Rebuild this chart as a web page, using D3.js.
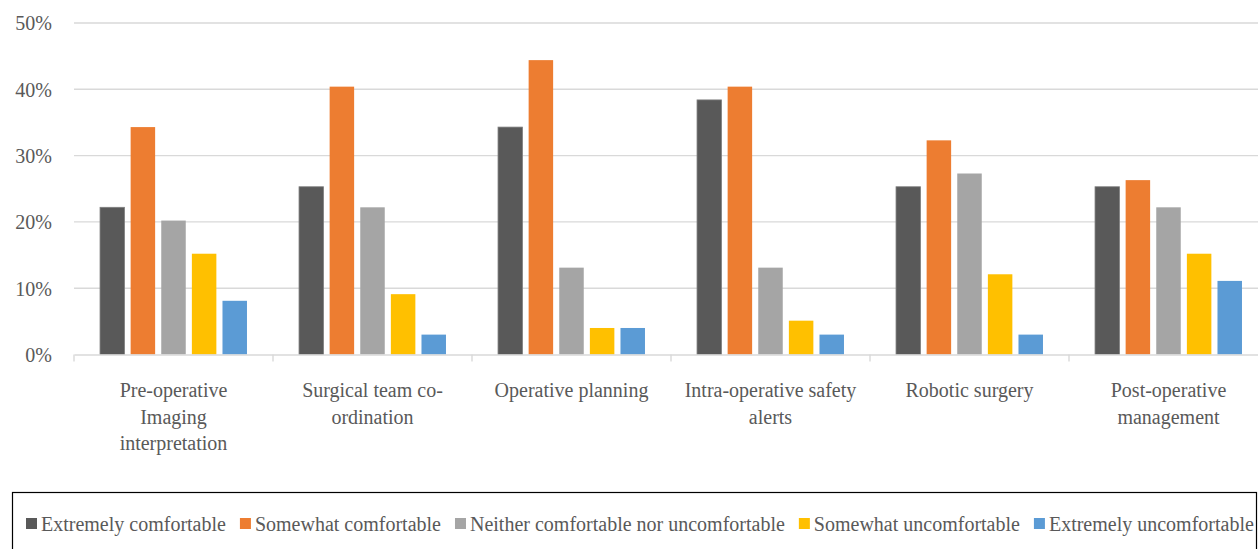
<!DOCTYPE html>
<html>
<head>
<meta charset="utf-8">
<script src="https://cdn.jsdelivr.net/npm/d3@7"></script>
<style>
  html, body { margin: 0; padding: 0; background: #fff; }
  svg { display: block; font-family: "Liberation Serif", "Times New Roman", serif; }
</style>
</head>
<body>
<svg id="chart" width="1258" height="549"></svg>
<script>
// Survey categories (each label split into display lines)
const categories = [
  "Pre-operative Imaging interpretation",
  "Surgical team co-ordination",
  "Operative planning",
  "Intra-operative safety alerts",
  "Robotic surgery",
  "Post-operative management"
];
const categoryLines = [
  ["Pre-operative", "Imaging", "interpretation"],
  ["Surgical team co-", "ordination"],
  ["Operative planning"],
  ["Intra-operative safety", "alerts"],
  ["Robotic surgery"],
  ["Post-operative", "management"]
];

// Response levels
const seriesNames = [
  "Extremely comfortable",
  "Somewhat comfortable",
  "Neither comfortable nor uncomfortable",
  "Somewhat uncomfortable",
  "Extremely uncomfortable"
];
const seriesColors = ["#595959", "#ED7D31", "#A5A5A5", "#FFC000", "#5B9BD5"];

// Share of respondents (%) per category, one array per response level
const extremelyComfortable   = [22.2, 25.3, 34.3, 38.4, 25.3, 25.3];
const somewhatComfortable    = [34.3, 40.4, 44.4, 40.4, 32.3, 26.3];
const neitherComfortable     = [20.2, 22.2, 13.1, 13.1, 27.3, 22.2];
const somewhatUncomfortable  = [15.2,  9.1,  4.0,  5.1, 12.1, 15.2];
const extremelyUncomfortable = [ 8.1,  3.0,  4.0,  3.0,  3.0, 11.1];
const seriesValues = [
  extremelyComfortable, somewhatComfortable, neitherComfortable,
  somewhatUncomfortable, extremelyUncomfortable
];

// Value axis ticks
const yTicks = [0, 10, 20, 30, 40, 50];

const svg = d3.select("#chart");
const textColor = "#595959";
const gridColor = "#d9d9d9";

const y = d3.scaleLinear().domain([0, 50]).range([354.5, 23]);
const x0 = d3.scaleBand().domain(categories).range([74, 1268]).padding(0);
const x1 = d3.scaleBand().domain(seriesNames).range([0, x0.bandwidth()])
  .paddingInner(0.2).paddingOuter(0.85);

// Gridlines
svg.append("g").selectAll("line").data(yTicks.filter(t => t > 0)).join("line")
  .attr("x1", 74).attr("x2", 1268)
  .attr("y1", d => y(d)).attr("y2", d => y(d))
  .attr("stroke", gridColor).attr("stroke-width", 1.4);

// Y-axis labels
const yAxis = d3.axisLeft(y).tickValues(yTicks).tickFormat(d => d + "%").tickSize(0).tickPadding(0);
const yg = svg.append("g").attr("transform", "translate(52,0)").call(yAxis);
yg.select(".domain").remove();
yg.selectAll("text")
  .attr("font-family", "Liberation Serif, Times New Roman, serif")
  .attr("font-size", 20).attr("fill", textColor).attr("dy", "0.34em");

// Bars
const groups = svg.append("g").selectAll("g").data(categories).join("g")
  .attr("transform", d => `translate(${x0(d)},0)`);
groups.selectAll("rect")
  .data((c, ci) => seriesNames.map((s, si) => ({ s, si, v: seriesValues[si][ci] })))
  .join("rect")
  .attr("x", d => x1(d.s))
  .attr("width", x1.bandwidth())
  .attr("y", d => y(d.v))
  .attr("height", d => y(0) - y(d.v))
  .attr("fill", d => seriesColors[d.si])
  .attr("stroke", d => d.si === 0 ? "#7f7f7f" : "none")
  .attr("stroke-width", 0.8);

// Category axis: baseline and separators
const xAxis = d3.axisBottom(x0).tickSize(0).tickFormat("");
const xg = svg.append("g").attr("transform", `translate(0,${y(0)})`).call(xAxis);
xg.select(".domain").attr("stroke", gridColor).attr("stroke-width", 1.4);
xg.selectAll(".tick").remove();
const bounds = categories.map(c => x0(c)).concat([x0(categories[categories.length - 1]) + x0.bandwidth()]);
xg.selectAll("line.sep").data(bounds).join("line").attr("class", "sep")
  .attr("x1", d => d).attr("x2", d => d).attr("y1", 0).attr("y2", 7)
  .attr("stroke", gridColor).attr("stroke-width", 1.4);

// Category labels
const labels = svg.append("g").selectAll("text").data(categories).join("text")
  .attr("x", d => x0(d) + x0.bandwidth() / 2)
  .attr("y", 397)
  .attr("text-anchor", "middle")
  .attr("font-size", 20).attr("fill", textColor);
labels.each(function(d, i) {
  d3.select(this).selectAll("tspan").data(categoryLines[i]).join("tspan")
    .attr("x", x0(d) + x0.bandwidth() / 2)
    .attr("dy", (l, j) => j === 0 ? 0 : 26.5)
    .text(l => l);
});

// Legend
const legend = svg.append("g");
legend.append("rect")
  .attr("x", 12.5).attr("y", 492.5).attr("width", 1244).attr("height", 80)
  .attr("fill", "none").attr("stroke", "#000").attr("stroke-width", 1.2);
let lx = 26;
seriesNames.forEach((name, i) => {
  legend.append("rect").attr("x", lx).attr("y", 518).attr("width", 11).attr("height", 11)
    .attr("fill", seriesColors[i]);
  const t = legend.append("text").attr("x", lx + 15).attr("y", 530.5)
    .attr("font-size", 20).attr("fill", textColor).text(name);
  lx += 15 + t.node().getComputedTextLength() + 14;
});
</script>
</body>
</html>
